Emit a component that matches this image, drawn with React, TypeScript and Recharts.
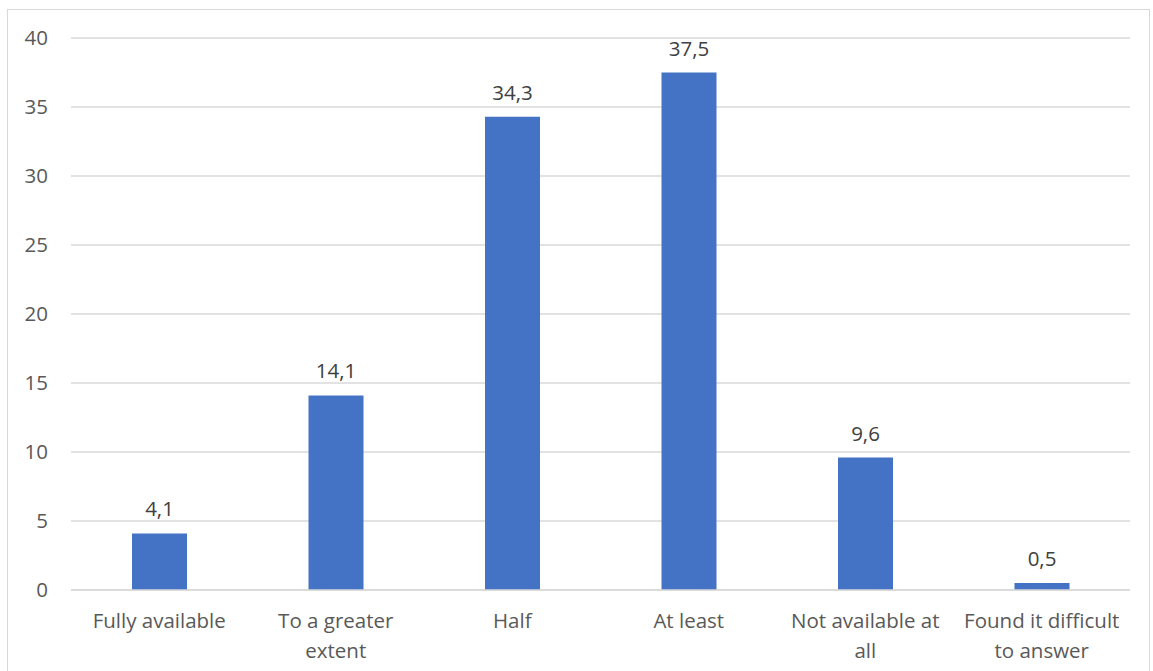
import { BarChart, Bar, XAxis, YAxis, CartesianGrid, LabelList } from 'recharts'

const categories = [
  'Fully available',
  'To a greater extent',
  'Half',
  'At least',
  'Not available at all',
  'Found it difficult to answer',
]
const shares = [4.1, 14.1, 34.3, 37.5, 9.6, 0.5]
const yTicks = [0, 5, 10, 15, 20, 25, 30, 35, 40]

const data = categories.map((name, i) => ({ name, value: shares[i] }))

const FONT = '"Open Sans", "Noto Sans", sans-serif'
const TEXT = '#595959'
const SIZE = 20.5

// greedy word wrap for the category labels
function wrap(label: string, max = 18) {
  const lines: string[] = []
  let cur = ''
  for (const w of label.split(' ')) {
    const next = cur ? cur + ' ' + w : w
    if (next.length > max && cur) {
      lines.push(cur)
      cur = w
    } else {
      cur = next
    }
  }
  if (cur) lines.push(cur)
  return lines
}

function CategoryTick({ x, y, payload }: any) {
  const lines = wrap(String(payload.value))
  return (
    <text x={x} y={y} textAnchor="middle" fill={TEXT} fontSize={SIZE} fontFamily={FONT}>
      {lines.map((l, i) => (
        <tspan key={i} x={x} dy={i === 0 ? 30 : 30}>{l}</tspan>
      ))}
    </text>
  )
}

export default function App() {
  return (
    <div style={{ position: 'absolute', left: 0, top: 0, width: 1153, height: 671, background: '#fff' }}>
      <div style={{ position: 'absolute', left: 7, top: 9, width: 1143, height: 670, border: '1px solid #d9d9d9', boxSizing: 'border-box' }} />
      <BarChart
        width={1153}
        height={671}
        data={data}
        margin={{ top: 38, right: 23, bottom: 51, left: 0 }}
        barSize={55}
        style={{ position: 'absolute', left: 0, top: 0 }}
      >
        <CartesianGrid vertical={false} stroke="#d9d9d9" strokeWidth={1.5} />
        <XAxis
          dataKey="name"
          height={30}
          interval={0}
          tickLine={false}
          axisLine={{ stroke: '#d9d9d9', strokeWidth: 1.5 }}
          tick={<CategoryTick />}
        />
        <YAxis
          width={71}
          domain={[0, 40]}
          ticks={yTicks}
          interval={0}
          axisLine={false}
          tickLine={false}
          tickMargin={17}
          tick={{ fill: TEXT, fontSize: SIZE, fontFamily: FONT }}
        />
        <Bar dataKey="value" fill="#4472c4" isAnimationActive={false}>
          <LabelList
            dataKey="value"
            position="top"
            offset={17}
            fill="#404040"
            fontSize={SIZE}
            fontFamily={FONT}
            formatter={(v: any) => String(v).replace('.', ',')}
          />
        </Bar>
      </BarChart>
    </div>
  )
}
